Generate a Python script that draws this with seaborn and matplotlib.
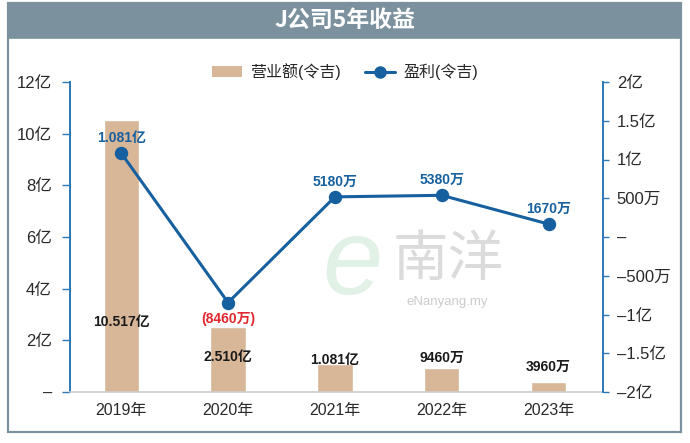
import matplotlib
matplotlib.use("Agg")
import matplotlib.pyplot as plt
import seaborn as sns
import numpy as np
import pandas as pd
from matplotlib.patches import Rectangle
from matplotlib.lines import Line2D
from matplotlib.patches import Patch

# ---- data ----
years = ["2019年", "2020年", "2021年", "2022年", "2023年"]
revenue = [10.517, 2.510, 1.081, 0.946, 0.396]          # 亿令吉
profit = [1.081, -0.846, 0.518, 0.538, 0.167]            # 亿令吉
revenue_labels = ["10.517亿", "2.510亿", "1.081亿", "9460万", "3960万"]
profit_labels = ["1.081亿", "(8460万)", "5180万", "5380万", "1670万"]
left_ticks = [0, 2, 4, 6, 8, 10, 12]
left_ticklabels = ["–", "2亿", "4亿", "6亿", "8亿", "10亿", "12亿"]
right_ticks = [-2, -1.5, -1, -0.5, 0, 0.5, 1, 1.5, 2]
right_ticklabels = ["–2亿", "–1.5亿", "–1亿", "–500万", "–", "500万", "1亿", "1.5亿", "2亿"]
title = "J公司5年收益"
legend_labels = ["营业额(令吉)", "盈利(令吉)"]

# layout-only: y positions (left axis units) of revenue labels
rev_label_y = [2.71, 1.35, 1.24, 1.32, 0.97]

sns.set_theme(style="white")
plt.rcParams['font.family'] = ['Liberation Sans', 'Noto Sans CJK SC', 'DejaVu Sans']
plt.rcParams['axes.unicode_minus'] = False

BAR = "#d8b698"
BLUE = "#17609f"
SPINE = "#2b78b5"
FRAME = "#7b929e"
TXT = "#2a2a2a"

fig = plt.figure(figsize=(6.9, 4.43), dpi=100)
W, H = 690, 443

# frame and title band
fig.patches.append(Rectangle((8 / W, 1 - 432 / H), (681 - 8) / W, (432 - 3) / H,
                             transform=fig.transFigure, facecolor="white",
                             edgecolor=FRAME, linewidth=1.6, zorder=-5))
fig.patches.append(Rectangle((8 / W, 1 - 38 / H), (681 - 8) / W, 35 / H,
                             transform=fig.transFigure, facecolor=FRAME,
                             edgecolor=FRAME, linewidth=1.2, zorder=-4))
fig.text(0.5, 1 - 20.5 / H, title, ha="center", va="center", color="white",
         fontsize=16.5, fontweight="bold",
         family=['Noto Sans CJK SC', 'DejaVu Sans'])

ax = fig.add_axes([70 / W, 1 - 392 / H, (603 - 70) / W, (392 - 82) / H])
ax.set_facecolor("none")
ax.set_zorder(2)
df = pd.DataFrame({"year": years, "revenue": revenue, "profit": profit})
sns.barplot(data=df, x="year", y="revenue", ax=ax, color=BAR, width=0.33,
            saturation=1, zorder=1)
ax.set_ylim(0, 12)
ax.set_xlim(-0.48, 4.51)
ax.set_yticks(left_ticks)
ax.set_yticklabels(left_ticklabels)
ax.set_xlabel("")
ax.set_ylabel("")

ax2 = ax.twinx()
ax2.set_zorder(3)
ax2.set_facecolor("none")
sns.pointplot(data=df, x="year", y="profit", ax=ax2, color=BLUE, markers="o",
              errorbar=None, linewidth=2.2, markersize=8)
ax2.set_ylim(-2, 2)
ax2.set_xlim(-0.48, 4.51)
ax2.set_yticks(right_ticks)
ax2.set_yticklabels(right_ticklabels)
ax2.set_ylabel("")
ax2.set_xlabel("")

for a in (ax, ax2):
    for s in a.spines.values():
        s.set_visible(False)
ax.spines["left"].set_visible(True)
ax.spines["left"].set_color(SPINE)
ax.spines["left"].set_linewidth(1.4)
ax.spines["bottom"].set_visible(True)
ax.spines["bottom"].set_color("#cccccc")
ax.spines["bottom"].set_linewidth(1.2)
ax2.spines["right"].set_visible(True)
ax2.spines["right"].set_color(SPINE)
ax2.spines["right"].set_linewidth(1.4)

ax.tick_params(axis="y", direction="out", length=6, width=1, color=SPINE,
               labelsize=12, labelcolor=TXT, pad=7, left=True)
ax2.tick_params(axis="y", direction="out", length=4, width=1, color=SPINE,
                labelsize=12, labelcolor=TXT, pad=6, right=True)
ax.tick_params(axis="x", length=0, labelsize=11.5, labelcolor=TXT, pad=8)

# revenue labels
for i, (lab, yy) in enumerate(zip(revenue_labels, rev_label_y)):
    ax.text(i, yy, lab, ha="center", va="center", fontsize=10,
            fontweight="bold", color="#1a1a1a", zorder=5)

# profit labels
for i, (lab, v) in enumerate(zip(profit_labels, profit)):
    if v >= 0:
        ax2.annotate(lab, (i, v), xytext=(0, 6), textcoords="offset points",
                     ha="center", va="bottom", fontsize=10, fontweight="bold",
                     color=BLUE, zorder=6)
    else:
        ax2.annotate(lab, (i, v), xytext=(0, -7), textcoords="offset points",
                     ha="center", va="top", fontsize=10, fontweight="bold",
                     color="#e0282e", zorder=6)

# watermark
fig.text(352 / W, 1 - 266 / H, "e", fontsize=78, color="#9fd3ae", alpha=0.3,
         ha="center", va="center", style="italic", zorder=-1)
fig.text(448 / W, 1 - 260 / H, "南洋", fontsize=40, color="#9a9a9a", alpha=0.35,
         ha="center", va="center", family=['Noto Sans CJK SC'], zorder=-1)
fig.text(447 / W, 1 - 302 / H, "eNanyang.my", fontsize=9.5, color="#9a9a9a",
         alpha=0.5, ha="center", va="center", zorder=-1)

# legend
handles = [Patch(facecolor=BAR, edgecolor="none"),
           Line2D([0], [0], color=BLUE, linewidth=2.2, marker="o", markersize=8)]
fig.legend(handles, legend_labels, loc="center", bbox_to_anchor=(0.5, 1 - 72 / H),
           ncol=2, frameon=False, fontsize=11.5, handlelength=1.9,
           columnspacing=1.5, handletextpad=0.5)

fig.savefig("out.png", dpi=100)
